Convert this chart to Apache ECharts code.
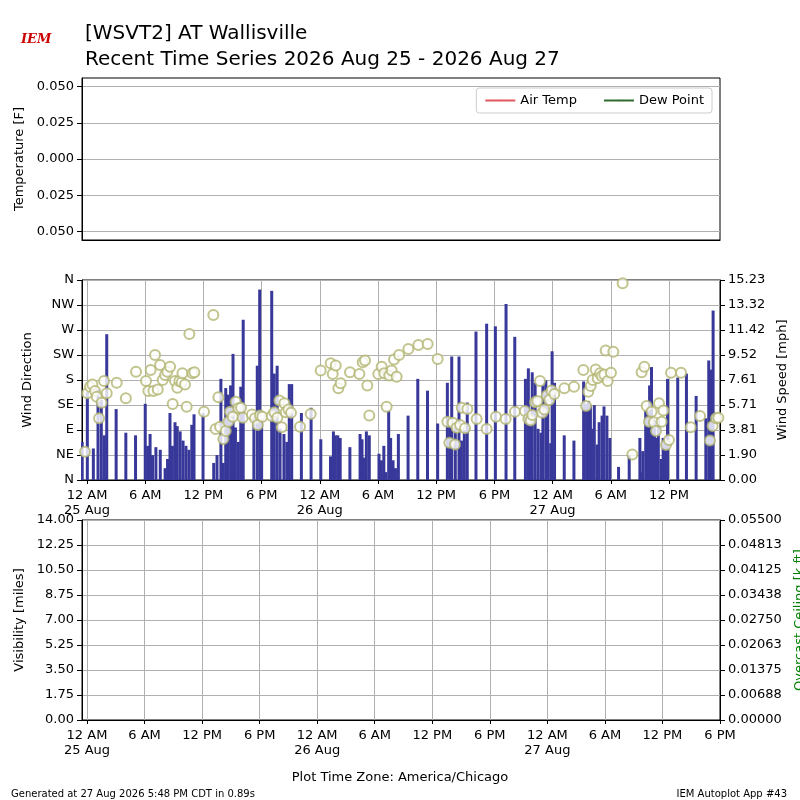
<!DOCTYPE html>
<html>
<head>
<meta charset="utf-8">
<script src="https://cdn.jsdelivr.net/npm/echarts@6/dist/echarts.min.js"></script>
<style>html,body{margin:0;padding:0;background:#fff}#main{width:800px;height:800px}</style>
</head>
<body>
<div id="main"></div>
<script>
// wind speed bars: [hours since 25 Aug 00:00, mph]
var windSpeed = [
  [-0.5,2.9],[0.03,6.7],[0.65,2.4],[1.13,6.9],[1.47,6.1],[1.78,3.4],[2.03,11.1],[3.0,5.4],[4.0,3.6],[5.0,3.4],
  [6.0,5.8],[6.25,2.6],[6.5,3.5],[6.75,1.9],[7.1,2.5],[7.55,2.3],[8.05,0.9],[8.3,1.6],[8.55,5.1],[8.8,2.6],
  [9.07,4.4],[9.3,4.1],[9.6,3.7],[9.9,3.0],[10.2,2.6],[10.5,2.3],[10.8,4.2],[11.03,5.0],[11.96,5.1],
  [13.06,1.3],[13.4,1.9],[13.8,7.7],[14.05,1.3],[14.3,7.0],[14.5,6.5],[14.8,7.2],[15.05,9.6],[15.3,4.0],[15.6,2.9],
  [15.85,7.1],[16.1,12.2],[17.2,4.9],[17.55,8.7],[17.8,14.5],[18.0,4.5],[19.04,14.4],[19.3,8.1],[19.6,8.7],[19.9,3.9],
  [20.3,3.5],[20.6,2.9],[20.85,7.3],[21.1,7.3],[22.1,5.1],[23.1,5.5],[24.1,3.1],[25.1,1.8],[25.4,3.7],[25.6,3.4],
  [25.85,3.4],[26.1,3.2],[27.1,2.5],[28.15,3.5],[28.35,3.1],[28.6,1.7],[28.8,3.7],[29.1,3.4],[30.1,2.0],[30.35,1.5],
  [30.6,2.6],[30.8,0.6],[31.1,5.3],[31.3,3.2],[31.55,1.5],[31.8,0.9],[32.1,3.5],[33.1,4.9],[34.1,7.7],[35.1,6.8],
  [36.15,4.3],[37.15,7.4],[37.4,4.2],[37.6,9.4],[37.97,4.2],[38.35,9.4],[38.6,3.0],[38.9,3.8],[39.2,5.9],[40.1,11.3],
  [41.2,11.9],[42.1,11.7],[43.2,13.4],[44.1,10.9],[45.2,7.7],[45.5,8.5],[45.7,4.7],[45.9,8.2],[46.2,7.4],[46.5,3.9],
  [46.8,3.6],[47.0,7.2],[47.3,7.6],[47.5,5.5],[47.8,2.8],[47.95,9.8],[48.2,7.4],[49.2,3.4],[50.2,3.0],[51.2,7.5],
  [51.5,5.8],[51.7,6.0],[51.9,5.7],[52.1,3.9],[52.3,5.7],[52.6,2.7],[52.8,4.4],[53.1,4.9],[53.3,5.6],[53.6,4.9],
  [53.9,3.2],[54.8,1.0],[55.9,1.9],[57.0,3.2],[57.1,0.6],[57.3,2.2],[57.6,5.3],[57.8,5.5],[58.0,7.2],[58.2,8.6],
  [58.5,4.6],[58.7,3.2],[58.9,4.7],[59.2,1.6],[59.4,3.2],[59.6,3.0],[59.85,7.7],[60.9,7.8],[61.8,8.1],[62.8,6.4],
  [63.8,4.7],[64.1,9.1],[64.3,8.4],[64.55,12.9]
];
// wind direction circles: [hours, degrees]
var windDir = [
  [-0.55,186],[-0.72,138],[-0.21,51],[0.03,156],[0.31,168],[0.55,172],[0.82,160],[1.0,150],[1.24,111],[1.51,139],
  [1.75,178],[2.03,156],[3.06,175],[4.0,147],[5.05,195],[6.08,178],[6.32,160],[6.56,198],[6.84,160],[7.01,225],
  [7.29,163],[7.53,207],[7.8,180],[8.04,189],[8.28,195],[8.56,204],[8.83,137],[9.07,178],[9.31,166],[9.52,178],
  [9.76,176],[9.83,192],[10.1,172],[10.27,132],[10.55,263],[10.86,192],[11.07,194],[12.06,123],[13.02,297],[13.26,92],
  [13.54,149],[13.71,96],[14.05,74],[14.3,88],[14.57,105],[14.74,123],[15.02,114],[15.33,141],[15.6,129],[15.88,130],
  [16.05,112],[17.0,118],[17.32,111],[17.6,99],[17.83,116],[18.07,114],[19.04,115],[19.31,122],[19.62,112],[19.83,143],
  [20.07,95],[20.35,138],[20.48,122],[20.76,127],[21.03,121],[21.96,96],[23.06,119],[24.09,197],[25.12,210],[25.33,191],
  [25.64,206],[25.91,165],[26.15,174],[27.11,194],[28.08,191],[28.42,212],[28.66,215],[28.9,170],[29.1,116],[30.03,191],
  [30.38,204],[30.65,192],[30.89,132],[31.17,188],[31.41,197],[31.65,217],[31.92,186],[32.17,225],[33.13,236],[34.16,243],
  [35.12,245],[36.15,218],[37.15,105],[37.35,67],[37.7,103],[37.94,64],[38.11,94],[38.46,99],[38.63,130],[38.97,93],
  [39.21,128],[40.17,110],[41.2,92],[42.16,114],[43.16,110],[44.12,123],[45.15,124],[45.5,110],[45.74,107],[45.91,117],
  [46.19,140],[46.43,142],[46.7,178],[46.94,121],[47.15,127],[47.39,152],[47.66,144],[47.9,161],[48.18,155],[49.21,165],
  [50.21,168],[51.17,198],[51.45,133],[51.68,159],[51.93,169],[52.13,180],[52.44,199],[52.65,183],[52.89,192],[53.06,187],
  [53.33,190],[53.68,178],[54.02,193],[53.47,233],[54.26,231],[55.22,354],[56.22,46],[57.18,194],[57.46,204],[57.7,133],
  [57.94,105],[58.21,123],[58.45,104],[58.66,88],[58.97,138],[59.24,105],[59.42,125],[59.69,63],[60.0,72],[60.21,193],
  [61.24,193],[62.24,95],[63.2,115],[64.23,71],[64.5,97],[64.85,111],[65.09,112]
];
var dirLabels = ['N', 'NE', 'E', 'SE', 'S', 'SW', 'W', 'NW', 'N'];
var timeTicks = [0, 6, 12, 18, 24, 30, 36, 42, 48, 54, 60, 66];
var tempTicks = [-0.05, -0.025, 0, 0.025, 0.05];
var speedMax = 15.226;
var ceilMax = 0.055;

var chart = echarts.init(document.getElementById('main'));
var grid = '#b0b0b0';
var txt = { color: '#000', fontSize: 13, fontFamily: 'DejaVu Sans' };

function timeLabel(v) {
  var h = Math.round(v);
  var hod = ((h % 24) + 24) % 24;
  var s = hod === 0 ? '12 AM' : hod === 6 ? '6 AM' : hod === 12 ? '12 PM' : '6 PM';
  if (hod === 0) s += '\n' + (25 + h / 24) + ' Aug';
  return s;
}
function xAx(idx, max, ticks) {
  return {
    type: 'value', gridIndex: idx, min: -0.52, max: max,
    axisLine: { show: true, onZero: false, lineStyle: { color: '#000' } },
    axisTick: { show: true, customValues: ticks, length: 4, lineStyle: { color: '#000' } },
    axisLabel: { show: true, customValues: ticks, formatter: timeLabel, color: '#000', fontSize: 13, fontFamily: 'DejaVu Sans', lineHeight: 15 },
    splitLine: { show: true, lineStyle: { color: grid } }
  };
}
function yLine() { return { show: true, onZero: false, lineStyle: { color: '#000' } }; }

var option = {
  animation: false,
  title: [
    { text: 'IEM', left: 16, top: 28, textStyle: { color: '#c00', fontSize: 13, fontStyle: 'italic', fontFamily: 'DejaVu Serif' } },
    { text: '[WSVT2] AT Wallisville\nRecent Time Series 2026 Aug 25 - 2026 Aug 27', left: 80, top: 16,
      textStyle: { fontSize: 20, fontWeight: 'normal', color: '#000', fontFamily: 'DejaVu Sans', lineHeight: 26 } },
    { text: 'Plot Time Zone: America/Chicago', left: 'center', top: 766, textStyle: { fontSize: 13, fontWeight: 'normal', color: '#000', fontFamily: 'DejaVu Sans' } },
    { text: 'Generated at 27 Aug 2026 5:48 PM CDT in 0.89s', left: 6, top: 784, textStyle: { fontSize: 10, fontWeight: 'normal', color: '#000', fontFamily: 'DejaVu Sans' } },
    { text: 'IEM Autoplot App #43', right: 8, top: 784, textStyle: { fontSize: 10, fontWeight: 'normal', color: '#000', fontFamily: 'DejaVu Sans' } }
  ],
  legend: {
    data: ['Air Temp', 'Dew Point'], right: 88, top: 88, itemWidth: 30, itemHeight: 2, itemGap: 26,
    borderColor: '#ccc', borderWidth: 1, borderRadius: 3, padding: [6, 8],
    textStyle: { fontSize: 13, color: '#000', fontFamily: 'DejaVu Sans' }
  },
  grid: [
    { left: 82, right: 80, top: 78, height: 162, show: true, borderColor: '#000', borderWidth: 1, outerBoundsMode: 'none' },
    { left: 82, right: 80, top: 280, height: 200, show: true, borderColor: '#000', borderWidth: 1, outerBoundsMode: 'none' },
    { left: 82, right: 80, top: 520, height: 200, show: true, borderColor: '#000', borderWidth: 1, outerBoundsMode: 'none' }
  ],
  xAxis: [
    Object.assign(xAx(0, 65.26, timeTicks), { axisLabel: { show: false }, axisTick: { show: false }, splitLine: { show: false } }),
    xAx(1, 65.26, timeTicks.slice(0, 11)),
    xAx(2, 66, timeTicks)
  ],
  yAxis: [
    { type: 'value', gridIndex: 0, min: -0.0559, max: 0.0559, name: 'Temperature [F]', nameLocation: 'middle', nameGap: 52,
      nameTextStyle: txt, axisLine: yLine(),
      axisTick: { show: true, customValues: tempTicks, lineStyle: { color: '#000' } },
      axisLabel: { customValues: tempTicks, formatter: function (v) { return Math.abs(v).toFixed(3); }, color: '#000', fontSize: 13, fontFamily: 'DejaVu Sans' },
      splitLine: { show: true, lineStyle: { color: grid } } },
    { type: 'value', gridIndex: 1, min: 0, max: 360, interval: 45, name: 'Wind Direction', nameLocation: 'middle', nameGap: 48,
      nameTextStyle: txt, axisLine: yLine(), axisTick: { show: true },
      axisLabel: { formatter: function (v) { return dirLabels[Math.round(v / 45)]; }, color: '#000', fontSize: 13, fontFamily: 'DejaVu Sans' },
      splitLine: { show: true, lineStyle: { color: grid } } },
    { type: 'value', gridIndex: 1, position: 'right', min: 0, max: speedMax, interval: speedMax / 8, name: 'Wind Speed [mph]', nameLocation: 'middle', nameGap: 56,
      nameTextStyle: txt, axisLine: yLine(), axisTick: { show: true },
      axisLabel: { formatter: function (v) { return v.toFixed(2); }, color: '#000', fontSize: 13, fontFamily: 'DejaVu Sans' },
      splitLine: { show: false } },
    { type: 'value', gridIndex: 2, min: 0, max: 14, interval: 1.75, name: 'Visibility [miles]', nameLocation: 'middle', nameGap: 52,
      nameTextStyle: txt, axisLine: yLine(), axisTick: { show: true },
      axisLabel: { formatter: function (v) { return v.toFixed(2); }, color: '#000', fontSize: 13, fontFamily: 'DejaVu Sans' },
      splitLine: { show: true, lineStyle: { color: grid } } },
    { type: 'value', gridIndex: 2, position: 'right', min: 0, max: ceilMax, interval: ceilMax / 8, name: 'Overcast Ceiling [k ft]', nameLocation: 'middle', nameGap: 72,
      nameTextStyle: { color: 'green', fontSize: 13, fontFamily: 'DejaVu Sans' }, axisLine: yLine(), axisTick: { show: true },
      axisLabel: { formatter: function (v) { return v.toFixed(5); }, color: '#000', fontSize: 13, fontFamily: 'DejaVu Sans' },
      splitLine: { show: false } }
  ],
  series: [
    { name: 'Air Temp', type: 'line', xAxisIndex: 0, yAxisIndex: 0, data: [], color: '#e0585f', symbol: 'none' },
    { name: 'Dew Point', type: 'line', xAxisIndex: 0, yAxisIndex: 0, data: [], color: '#2e6b2e', symbol: 'none' },
    { name: 'Wind Speed', type: 'bar', xAxisIndex: 1, yAxisIndex: 2, data: windSpeed, barWidth: 3,
      itemStyle: { color: '#38389a' } },
    { name: 'Wind Direction', type: 'scatter', xAxisIndex: 1, yAxisIndex: 1, data: windDir, symbol: 'emptyCircle', symbolSize: 10,
      itemStyle: { color: '#b3b572', borderWidth: 1.6 }, z: 3 }
  ]
};
chart.setOption(option);
</script>
</body>
</html>
